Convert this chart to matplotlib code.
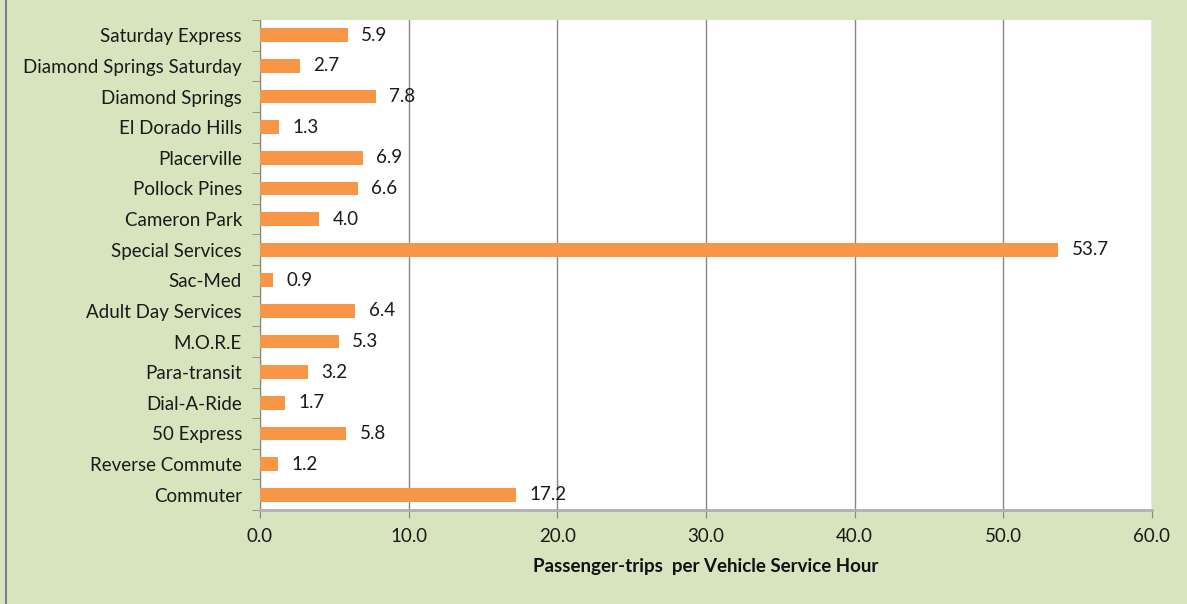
import numpy as np
import matplotlib
matplotlib.use('Agg')
import matplotlib.pyplot as plt
from matplotlib.patches import Rectangle

plt.rcParams['font.family'] = ['Lato', 'DejaVu Sans']

# top to bottom as shown in the chart
routes = ['Saturday Express', 'Diamond Springs Saturday', 'Diamond Springs',
          'El Dorado Hills', 'Placerville', 'Pollock Pines', 'Cameron Park',
          'Special Services', 'Sac-Med', 'Adult Day Services', 'M.O.R.E',
          'Para-transit', 'Dial-A-Ride', '50 Express', 'Reverse Commute',
          'Commuter']
trips_per_hour = [5.9, 2.7, 7.8, 1.3, 6.9, 6.6, 4.0, 53.7, 0.9, 6.4, 5.3,
                  3.2, 1.7, 5.8, 1.2, 17.2]
x_ticks = [0, 10, 20, 30, 40, 50, 60]

bg = '#d7e4bd'
bar_color = '#f79646'
grid_gray = '#868686'
fs = 13.5

fig = plt.figure(figsize=(11.87, 6.04), dpi=100, facecolor=bg)
# dark border on the left side of the chart area
fig.add_artist(Rectangle((0.005, -0.01), 1.2, 1.2, transform=fig.transFigure,
                         fill=False, edgecolor='#7f7f7f', linewidth=1.5))
ax = fig.add_axes([260 / 1187, 1 - 510 / 604, (1152 - 260) / 1187, (510 - 20) / 604])
ax.set_facecolor('white')

y = np.arange(len(routes))[::-1]
ax.barh(y, trips_per_hour, height=0.45, color=bar_color, zorder=3)
for yi, v in zip(y, trips_per_hour):
    ax.text(v + 0.9, yi, '%.1f' % v, va='center', ha='left', fontsize=fs,
            color='#1a1a1a')

ax.set_xlim(0, 60)
ax.set_ylim(-0.5, len(routes) - 0.5)
ax.set_xticks(x_ticks)
ax.set_xticklabels(['%.1f' % t for t in x_ticks], fontsize=fs, color='#1a1a1a')
ax.set_yticks(y)
ax.set_yticklabels(routes, fontsize=fs, color='#1a1a1a')
ax.set_yticks(np.arange(len(routes) + 1) - 0.5, minor=True)
ax.tick_params(axis='y', which='major', length=0, pad=13)
ax.tick_params(axis='y', which='minor', length=6, color=grid_gray)
ax.tick_params(axis='x', length=6, color=grid_gray, pad=7)

ax.grid(axis='x', color=grid_gray, linewidth=1, zorder=0)
for s in ['top', 'right']:
    ax.spines[s].set_visible(False)
ax.spines['left'].set_color(grid_gray)
ax.spines['bottom'].set_color('#b0b0b0')
ax.spines['bottom'].set_linewidth(2)

ax.set_xlabel('Passenger-trips  per Vehicle Service Hour', fontsize=fs,
              fontweight='bold', labelpad=9, color='#111111')

fig.savefig('out.png', dpi=100, facecolor=bg)
